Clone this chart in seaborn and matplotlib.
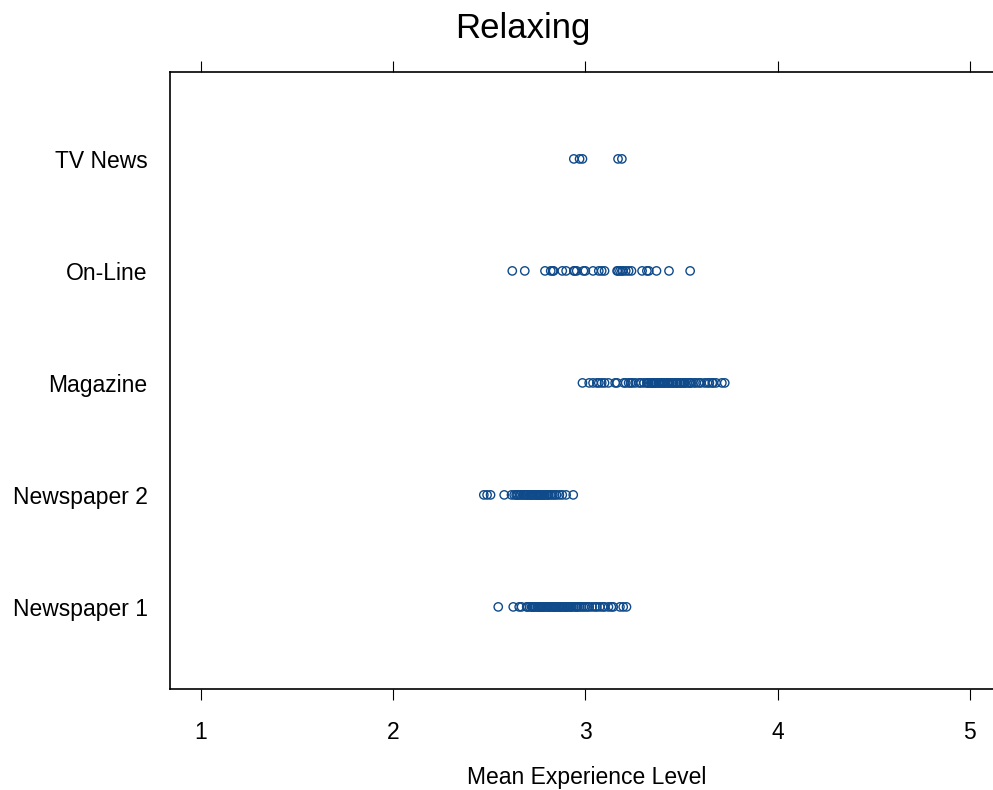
import pandas as pd
import seaborn as sns
import matplotlib.pyplot as plt

categories = ["TV News", "On-Line", "Magazine", "Newspaper 2", "Newspaper 1"]

tv_news = [2.94, 2.97, 2.985, 3.17, 3.19]
online = [2.62, 2.685, 2.79, 2.82, 2.83, 2.835, 2.88, 2.90, 2.94, 2.945, 2.955,
          2.99, 3.0, 3.04, 3.07, 3.085, 3.10, 3.165, 3.17, 3.18, 3.19, 3.195,
          3.21, 3.225, 3.24, 3.295, 3.32, 3.33, 3.37, 3.435, 3.545]
magazine = [2.985, 3.02, 3.04, 3.06, 3.07, 3.085, 3.10, 3.12, 3.155, 3.165, 3.20,
            3.21, 3.225, 3.235, 3.245, 3.26, 3.28, 3.29, 3.305, 3.32, 3.325, 3.33,
            3.34, 3.345, 3.35, 3.355, 3.36, 3.365, 3.37, 3.38, 3.385, 3.39, 3.40,
            3.405, 3.41, 3.415, 3.425, 3.43, 3.435, 3.44, 3.45, 3.455, 3.46, 3.47,
            3.475, 3.48, 3.49, 3.495, 3.50, 3.51, 3.515, 3.52, 3.53, 3.54, 3.545,
            3.55, 3.565, 3.575, 3.59, 3.60, 3.62, 3.635, 3.645, 3.66, 3.665, 3.68,
            3.71, 3.725]
newspaper2 = [2.472, 2.489, 2.507, 2.578, 2.616, 2.63, 2.64, 2.645, 2.65, 2.66,
              2.665, 2.675, 2.68, 2.69, 2.695, 2.70, 2.71, 2.715, 2.72, 2.725,
              2.73, 2.74, 2.745, 2.75, 2.755, 2.76, 2.765, 2.77, 2.775, 2.78,
              2.785, 2.79, 2.80, 2.805, 2.81, 2.82, 2.83, 2.84, 2.85, 2.865, 2.88,
              2.90, 2.937]
newspaper1 = [2.547, 2.625, 2.656, 2.668, 2.695, 2.70, 2.71, 2.72, 2.725, 2.73,
              2.735, 2.74, 2.75, 2.755, 2.76, 2.765, 2.77, 2.775, 2.78, 2.785,
              2.79, 2.80, 2.805, 2.81, 2.815, 2.82, 2.83, 2.835, 2.84, 2.845, 2.85,
              2.86, 2.865, 2.87, 2.875, 2.88, 2.89, 2.895, 2.90, 2.905, 2.91, 2.92,
              2.925, 2.93, 2.94, 2.95, 2.955, 2.96, 2.97, 2.98, 2.99, 3.0, 3.01,
              3.02, 3.035, 3.05, 3.06, 3.075, 3.09, 3.10, 3.12, 3.135, 3.145, 3.18,
              3.197, 3.214]

x_ticks = [1, 2, 3, 4, 5]

series = [tv_news, online, magazine, newspaper2, newspaper1]
df = pd.DataFrame({
    "medium": [c for c, vals in zip(categories, series) for _ in vals],
    "level": [v for vals in series for v in vals],
})

sns.set_style("white")
plt.rcParams["font.family"] = ["Liberation Sans", "DejaVu Sans"]
plt.rcParams["text.color"] = "black"
plt.rcParams["xtick.color"] = "black"
plt.rcParams["ytick.color"] = "black"
plt.rcParams["axes.labelcolor"] = "black"

fig = plt.figure(figsize=(9.93, 7.9), dpi=100)
ax = fig.add_axes([0.171, 0.128, 0.829, 0.781])

sns.stripplot(data=df, x="level", y="medium", order=categories, jitter=False,
              ax=ax, size=6, color="none", edgecolor="#0f4a8a", linewidth=1.0)

ax.set_xlim(0.839, 5.12)
ax.set_ylim(4.732, -0.777)
ax.set_xticks(x_ticks)
ax.set_xticklabels([str(t) for t in x_ticks])

ax.tick_params(axis="x", which="both", direction="out", length=8, width=0.8,
               color="black", top=True, bottom=True, labeltop=False,
               labelsize=16.5, pad=15)
ax.tick_params(axis="y", length=0, labelsize=16.5, pad=16)

for side in ["left", "top", "bottom"]:
    ax.spines[side].set_visible(True)
    ax.spines[side].set_color("black")
    ax.spines[side].set_linewidth(1.2)
ax.spines["right"].set_visible(False)

ax.set_ylabel("")
ax.set_xlabel("Mean Experience Level", fontsize=16.5)
ax.xaxis.set_label_coords(0.507, -0.125)
fig.suptitle("Relaxing", fontsize=25, x=0.527, y=0.985, va="top")

fig.savefig("out.png", dpi=100)
